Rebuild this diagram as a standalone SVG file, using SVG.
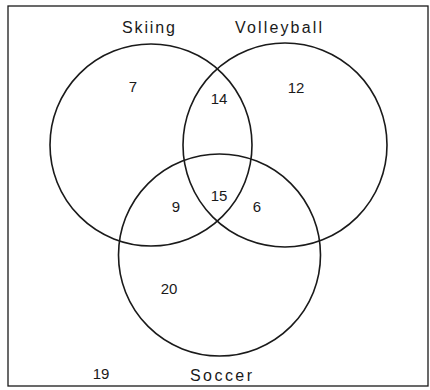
<svg xmlns="http://www.w3.org/2000/svg" width="430" height="390" viewBox="0 0 430 390">
<style>
.set{fill:none;stroke:#1a1a1a;stroke-width:1.6}
.lbl{font-family:"Liberation Sans",Arial,sans-serif;font-size:16px;fill:#1a1a1a}
.num{font-family:"Liberation Sans",Arial,sans-serif;font-size:15px;fill:#1a1a1a;text-anchor:middle}
</style>
<rect x="0" y="0" width="430" height="390" fill="#ffffff"/>
<rect id="frame" x="8" y="6" width="420" height="380" fill="none" stroke="#1a1a1a" stroke-width="1.3"/>
<g id="skiing">
<circle class="set" cx="151" cy="145" r="101"/>
<text class="lbl" x="122" y="33" textLength="53" lengthAdjust="spacing">Skiing</text>
</g>
<g id="volleyball">
<circle class="set" cx="285" cy="145" r="102"/>
<text class="lbl" x="235" y="33" textLength="87" lengthAdjust="spacing">Volleyball</text>
</g>
<g id="soccer">
<circle class="set" cx="219.5" cy="255" r="101"/>
<text class="lbl" x="190" y="381" textLength="62" lengthAdjust="spacing">Soccer</text>
</g>
<g id="numbers">
<text class="num" x="133" y="92">7</text>
<text class="num" x="219" y="104">14</text>
<text class="num" x="296" y="93">12</text>
<text class="num" x="176" y="212">9</text>
<text class="num" x="219" y="201">15</text>
<text class="num" x="257" y="212">6</text>
<text class="num" x="169" y="294">20</text>
<text class="num" x="101" y="379">19</text>
</g>
</svg>
